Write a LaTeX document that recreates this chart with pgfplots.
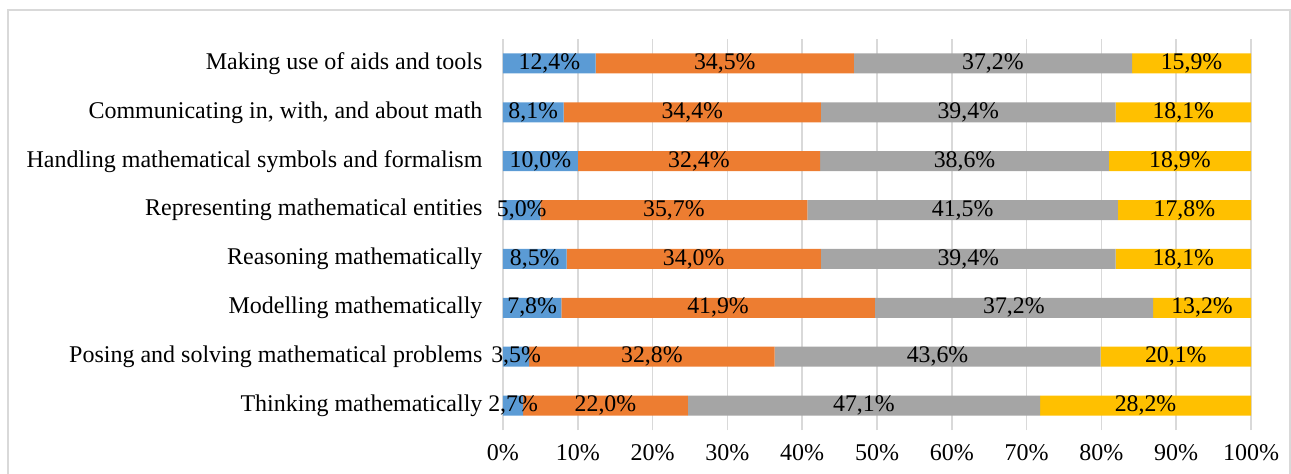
\documentclass[border=0pt]{standalone}
\usepackage{pgfplots}
\pgfplotsset{compat=1.18}
\usepackage{fontspec}
\setmainfont{Liberation Serif}
\definecolor{cA}{HTML}{5B9BD5}
\definecolor{cB}{HTML}{ED7D31}
\definecolor{cC}{HTML}{A5A5A5}
\definecolor{cD}{HTML}{FFC000}
\definecolor{gridc}{HTML}{D9D9D9}
\begin{document}
\begin{tikzpicture}[x=1pt,y=1pt]
\useasboundingbox (-503,-44) rectangle (788,430);
\draw[gridc,line width=1.2pt] (-495,-60) rectangle (787,420);
\begin{axis}[
  at={(0,0)}, anchor=south west,
  scale only axis, width=748pt, height=391pt,
  xbar stacked, bar width=20pt,
  xmin=0, xmax=100, ymin=-0.5, ymax=7.5,
  axis line style={draw=none},
  xmajorgrids, grid style={gridc,line width=1.5pt},
  xtick={0,10,...,100},
  xticklabels={0\%,10\%,20\%,30\%,40\%,50\%,60\%,70\%,80\%,90\%,100\%},
  ytick={0,...,7},
  yticklabels={Thinking mathematically,Posing and solving mathematical problems,Modelling mathematically,Reasoning mathematically,Representing mathematical entities,Handling mathematical symbols and formalism,{Communicating in, with, and about math},Making use of aids and tools},
  tick style={draw=none},
  /pgf/number format/assume math mode=true,
  every tick label/.append style={font=\fontsize{24}{28}\selectfont, text=black},
  yticklabel style={xshift=-17pt},
  xticklabel style={yshift=-11pt},
  point meta=explicit,
  nodes near coords={\pgfmathprintnumber[fixed,fixed zerofill,precision=1,use comma,assume math mode=true]{\pgfplotspointmeta}\%},
  every node near coord/.append style={font=\fontsize{23.8}{28}\selectfont, text=black},
]
\addplot[fill=cA,draw=none] coordinates {(2.7,0)[2.7] (3.5,1)[3.5] (7.8,2)[7.8] (8.5,3)[8.5] (5.0,4)[5.0] (10.0,5)[10.0] (8.1,6)[8.1] (12.4,7)[12.4]};
\addplot[fill=cB,draw=none] coordinates {(22.0,0)[22.0] (32.8,1)[32.8] (41.9,2)[41.9] (34.0,3)[34.0] (35.7,4)[35.7] (32.4,5)[32.4] (34.4,6)[34.4] (34.5,7)[34.5]};
\addplot[fill=cC,draw=none] coordinates {(47.1,0)[47.1] (43.6,1)[43.6] (37.2,2)[37.2] (39.4,3)[39.4] (41.5,4)[41.5] (38.6,5)[38.6] (39.4,6)[39.4] (37.2,7)[37.2]};
\addplot[fill=cD,draw=none] coordinates {(28.2,0)[28.2] (20.1,1)[20.1] (13.1,2)[13.2] (18.1,3)[18.1] (17.8,4)[17.8] (19.0,5)[18.9] (18.1,6)[18.1] (15.9,7)[15.9]};
\end{axis}
\end{tikzpicture}
\end{document}
